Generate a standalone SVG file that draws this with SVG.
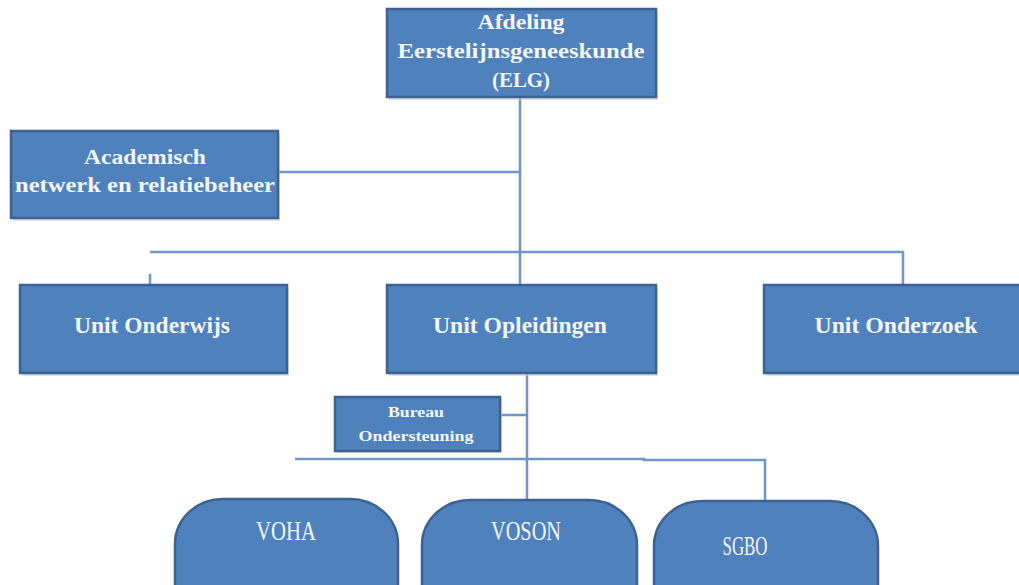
<svg xmlns="http://www.w3.org/2000/svg" width="1019" height="585" viewBox="0 0 1019 585">
<style>
.box{fill:#4F81BD;stroke:#3B6290;stroke-width:2.5}
.sh{fill:#c8ccd2;opacity:0.6}
.ln{stroke:#6E96C8;stroke-width:2.5;fill:none}
text{font-family:"Liberation Serif","DejaVu Serif",serif;fill:#F4F7FB;font-weight:bold;text-anchor:middle}
.t1{font-size:22px}
.t2{font-size:23px}
.t3{font-size:15px}
.t4{font-size:28px;font-weight:normal}
</style>
<g id="connectors">
<path class="ln" d="M520 97 V285"/>
<path class="ln" d="M278 172 H520"/>
<path class="ln" d="M150 252 H903 V285"/>
<path class="ln" d="M150 274 V285"/>
<path class="ln" d="M527 373 V500"/>
<path class="ln" d="M500 415 H527"/>
<path class="ln" d="M295 459 H644 V460 H765 V501"/>
</g>
<g id="n-elg">
<rect class="sh" x="389" y="12" width="269" height="88"/>
<rect class="box" x="387" y="9" width="269" height="88"/>
<text class="t1" x="521" y="29" textLength="87" lengthAdjust="spacingAndGlyphs">Afdeling</text>
<text class="t1" x="521" y="58" textLength="247" lengthAdjust="spacingAndGlyphs">Eerstelijnsgeneeskunde</text>
<text class="t1" x="521" y="87" textLength="58" lengthAdjust="spacingAndGlyphs">(ELG)</text>
</g>
<g id="n-academisch">
<rect class="sh" x="13" y="134" width="267" height="87"/>
<rect class="box" x="11" y="131" width="267" height="87"/>
<text class="t1" x="145" y="164" textLength="122" lengthAdjust="spacingAndGlyphs">Academisch</text>
<text class="t1" x="145" y="192" textLength="260" lengthAdjust="spacingAndGlyphs">netwerk en relatiebeheer</text>
</g>
<g id="n-onderwijs">
<rect class="sh" x="22" y="288" width="267" height="88"/>
<rect class="box" x="20" y="285" width="267" height="88"/>
<text class="t2" x="152" y="333" textLength="156" lengthAdjust="spacingAndGlyphs">Unit Onderwijs</text>
</g>
<g id="n-opleidingen">
<rect class="sh" x="389" y="288" width="269" height="88"/>
<rect class="box" x="387" y="285" width="269" height="88"/>
<text class="t2" x="520" y="333" textLength="174" lengthAdjust="spacingAndGlyphs">Unit Opleidingen</text>
</g>
<g id="n-onderzoek">
<rect class="sh" x="766" y="288" width="260" height="88"/>
<rect class="box" x="764" y="285" width="260" height="88"/>
<text class="t2" x="896" y="333" textLength="163" lengthAdjust="spacingAndGlyphs">Unit Onderzoek</text>
</g>
<g id="n-bureau">
<rect class="sh" x="337" y="399" width="165" height="54"/>
<rect class="box" x="335" y="397" width="165" height="54"/>
<text class="t3" x="416" y="417" textLength="56" lengthAdjust="spacingAndGlyphs">Bureau</text>
<text class="t3" x="416" y="441" textLength="115" lengthAdjust="spacingAndGlyphs">Ondersteuning</text>
</g>
<g id="n-voha">
<rect class="box" x="175" y="499" width="223" height="130" rx="48" ry="45"/>
<text class="t4" x="286" y="540" textLength="60" lengthAdjust="spacingAndGlyphs">VOHA</text>
</g>
<g id="n-voson">
<rect class="box" x="422" y="500" width="215" height="130" rx="48" ry="45"/>
<text class="t4" x="526" y="540" textLength="70" lengthAdjust="spacingAndGlyphs">VOSON</text>
</g>
<g id="n-sgbo">
<rect class="box" x="654" y="501" width="224" height="130" rx="48" ry="45"/>
<text class="t4" x="745" y="555" textLength="45" lengthAdjust="spacingAndGlyphs">SGBO</text>
</g>
</svg>
